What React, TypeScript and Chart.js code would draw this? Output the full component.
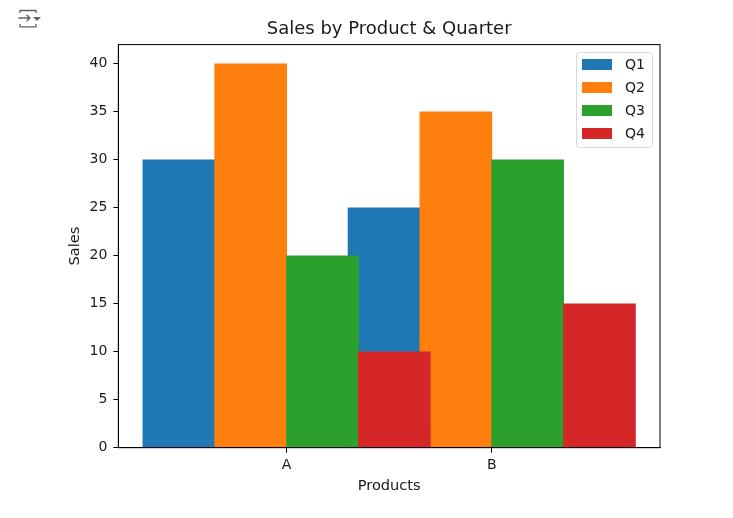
import React, { useEffect, useRef } from "react";
import { Chart, registerables } from "chart.js";

Chart.register(...registerables);

const categories = ["A", "B"];
const seriesNames = ["Q1", "Q2", "Q3", "Q4"];
const q1 = [30, 25];
const q2 = [40, 35];
const q3 = [20, 30];
const q4 = [10, 15];
const colors = ["#1f77b4", "#ff7f0e", "#2ca02c", "#d62728"];
const offsets = [-0.525, -0.175, 0.175, 0.525];
const title = "Sales by Product & Quarter";
const xLabel = "Products";
const yLabel = "Sales";
const yTicks = [0, 5, 10, 15, 20, 25, 30, 35, 40];

const FONT = "'DejaVu Sans'";
const INK = "#1a1a1a";
const TEXT_SIZE = 14.6;
const TICK_SIZE = 14;

const frame = {
  id: "frame",
  afterDatasetsDraw(chart: any) {
    const a = chart.chartArea;
    const ctx = chart.ctx;
    ctx.save();
    ctx.strokeStyle = "#000";
    ctx.lineWidth = 1;
    ctx.strokeRect(a.left, a.top, a.right - a.left, a.bottom - a.top);

    // legend box, upper right inside the axes
    ctx.strokeStyle = "#d9d9d9";
    ctx.fillStyle = "#fff";
    ctx.beginPath();
    ctx.roundRect(576.5, 52.5, 76, 95, 3);
    ctx.fill();
    ctx.stroke();
    ctx.font = `${TICK_SIZE}px ${FONT}`;
    ctx.textBaseline = "middle";
    ctx.textAlign = "left";
    chart.data.datasets.forEach((d: any, i: number) => {
      const cy = 64 + i * 23;
      ctx.fillStyle = d.backgroundColor;
      ctx.fillRect(582, cy - 5, 30, 11);
      ctx.fillStyle = INK;
      ctx.fillText(d.label, 625, cy + 1);
    });
    ctx.restore();
  },
};

function CollapseIcon() {
  return (
    <svg
      width="26"
      height="22"
      viewBox="0 0 26 22"
      style={{ position: "fixed", left: 17, top: 8 }}
      fill="none"
      stroke="#616161"
      strokeWidth="1.3"
    >
      <path d="M3 5V2.5H19V5" />
      <path d="M3 16V18.8H19V16" />
      <path d="M1.5 10H13M9.5 6.8L13 10L9.5 13.2" />
      <path d="M16 9H24L20 13Z" fill="#616161" stroke="none" />
    </svg>
  );
}

export default function App() {
  const ref = useRef<HTMLCanvasElement>(null);
  useEffect(() => {
    const seriesValues = [q1, q2, q3, q4];
    const chart = new Chart(ref.current!, {
      type: "bar",
      data: {
        datasets: seriesNames.map((name, s) => ({
          label: name,
          data: categories.map((_, c) => ({ x: c + offsets[s], y: seriesValues[s][c] })),
          backgroundColor: colors[s],
          borderWidth: 0,
          order: seriesNames.length - s,
          grouped: false,
          barThickness: 72,
        })),
      },
      options: {
        responsive: false,
        animation: false,
        layout: { padding: { left: 66, right: 73, top: 14, bottom: 23 } },
        plugins: {
          tooltip: { enabled: false },
          legend: { display: false },
          title: {
            display: true,
            fullSize: false,
            text: title,
            color: INK,
            font: { family: FONT, size: 18, weight: "normal" },
            padding: { top: 5, bottom: 4 },
          },
        },
        scales: {
          x: {
            type: "linear",
            offset: false,
            min: -0.82,
            max: 1.82,
            afterBuildTicks: (axis: any) => {
              axis.ticks = categories.map((_, i) => ({ value: i }));
            },
            ticks: {
              color: INK,
              font: { family: FONT, size: TICK_SIZE },
              padding: 4,
              maxRotation: 0,
              callback: (v: any) => categories[v],
            },
            grid: { offset: false, drawOnChartArea: false, color: "#000", tickLength: 5, tickColor: "#000" },
            border: { color: "#000" },
            title: {
              display: true,
              text: xLabel,
              color: INK,
              font: { family: FONT, size: TEXT_SIZE },
              padding: { top: 0, bottom: 0 },
            },
          },
          y: {
            min: 0,
            max: 42,
            afterBuildTicks: (axis: any) => {
              axis.ticks = yTicks.map((value) => ({ value }));
            },
            ticks: {
              color: INK,
              font: { family: FONT, size: TICK_SIZE },
              padding: 6,
            },
            grid: { drawOnChartArea: false, color: "#000", tickLength: 5, tickColor: "#000" },
            border: { color: "#000" },
            title: {
              display: true,
              text: yLabel,
              color: INK,
              font: { family: FONT, size: TEXT_SIZE },
              padding: { top: 0, bottom: 0 },
            },
          },
        },
      },
      plugins: [frame],
    } as any);
    return () => chart.destroy();
  }, []);
  return (
    <div>
      <canvas
        ref={ref}
        width={733}
        height={518}
        style={{ position: "fixed", left: 0, top: 0, display: "block" }}
      />
      <CollapseIcon />
    </div>
  );
}
